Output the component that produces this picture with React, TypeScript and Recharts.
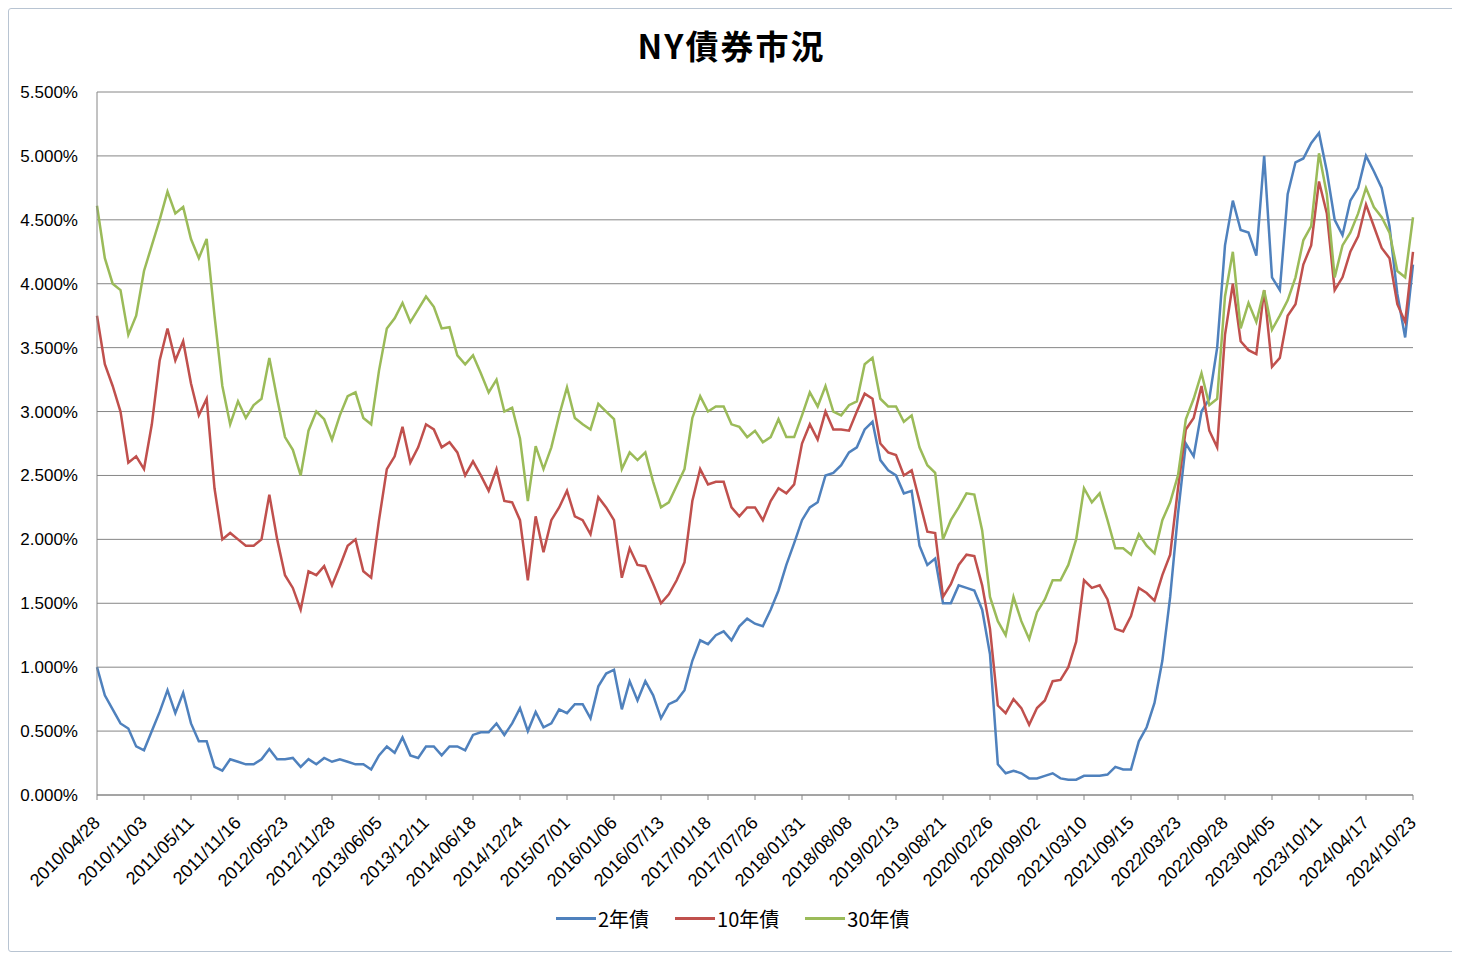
import React from "react";
import { LineChart, Line, XAxis, YAxis, CartesianGrid } from "recharts";

// axis labels (one every 6 data points, roughly monthly samples)
const tickLabels = [
  "2010/04/28", "2010/11/03", "2011/05/11", "2011/11/16", "2012/05/23", "2012/11/28",
  "2013/06/05", "2013/12/11", "2014/06/18", "2014/12/24", "2015/07/01", "2016/01/06",
  "2016/07/13", "2017/01/18", "2017/07/26", "2018/01/31", "2018/08/08", "2019/02/13",
  "2019/08/21", "2020/02/26", "2020/09/02", "2021/03/10", "2021/09/15", "2022/03/23",
  "2022/09/28", "2023/04/05", "2023/10/11", "2024/04/17", "2024/10/23",
];
const yTicks = [0, 0.5, 1, 1.5, 2, 2.5, 3, 3.5, 4, 4.5, 5, 5.5];

// 2年債 (%)
const y2 = [
  1.0, 0.78, 0.67, 0.56, 0.52, 0.38, 0.35, 0.5, 0.65, 0.82, 0.64, 0.8, 0.56, 0.42, 0.42, 0.22, 0.19, 0.28, 0.26, 0.24, 0.24, 0.28, 0.36, 0.28, 0.28, 0.29, 0.22, 0.28, 0.24,
  0.29, 0.26, 0.28, 0.26, 0.24, 0.24, 0.2, 0.31, 0.38, 0.33, 0.45, 0.31, 0.29, 0.38, 0.38, 0.31, 0.38, 0.38, 0.35, 0.47, 0.49, 0.49, 0.56, 0.47, 0.56, 0.68, 0.5, 0.65,
  0.53, 0.56, 0.67, 0.64, 0.71, 0.71, 0.6, 0.85, 0.95, 0.98, 0.67, 0.89, 0.74, 0.89, 0.78, 0.6, 0.71, 0.74, 0.82, 1.05, 1.21, 1.18, 1.25, 1.28, 1.21, 1.32, 1.38, 1.34,
  1.32, 1.45, 1.6, 1.8, 1.97, 2.15, 2.25, 2.29, 2.5, 2.52, 2.58, 2.68, 2.72, 2.86, 2.92, 2.62, 2.54, 2.5, 2.36, 2.38, 1.95, 1.8, 1.85, 1.5, 1.5, 1.64, 1.62, 1.6,
  1.45, 1.1, 0.24, 0.17, 0.19, 0.17, 0.13, 0.13, 0.15, 0.17, 0.13, 0.12, 0.12, 0.15, 0.15, 0.15, 0.16, 0.22, 0.2, 0.2, 0.42, 0.53, 0.72, 1.05, 1.55, 2.2, 2.75, 2.65,
  3.0, 3.1, 3.5, 4.3, 4.65, 4.42, 4.4, 4.22, 5.0, 4.05, 3.95, 4.7, 4.95, 4.98, 5.1, 5.18, 4.88, 4.5, 4.38, 4.65, 4.75, 5.0, 4.88, 4.75, 4.45, 3.92, 3.58, 4.15,
];

// 10年債 (%)
const y10 = [
  3.75, 3.37, 3.2, 3.0, 2.6, 2.65, 2.55, 2.9, 3.4, 3.65, 3.4, 3.55, 3.22, 2.97, 3.1, 2.4, 2.0, 2.05, 2.0, 1.95, 1.95, 2.0, 2.35, 2.0, 1.72, 1.62, 1.45, 1.75, 1.72,
  1.79, 1.64, 1.79, 1.95, 2.0, 1.75, 1.7, 2.15, 2.55, 2.65, 2.88, 2.6, 2.72, 2.9, 2.86, 2.72, 2.76, 2.68, 2.5, 2.61, 2.5, 2.38, 2.55, 2.3, 2.29, 2.15, 1.68, 2.18,
  1.9, 2.15, 2.25, 2.38, 2.18, 2.15, 2.04, 2.33, 2.25, 2.15, 1.7, 1.93, 1.8, 1.79, 1.65, 1.5, 1.57, 1.68, 1.82, 2.3, 2.55, 2.43, 2.45, 2.45, 2.25, 2.18, 2.25, 2.25,
  2.15, 2.3, 2.4, 2.36, 2.43, 2.75, 2.9, 2.78, 3.0, 2.86, 2.86, 2.85, 3.0, 3.14, 3.1, 2.75, 2.68, 2.66, 2.5, 2.54, 2.3, 2.06, 2.05, 1.55, 1.65, 1.8, 1.88, 1.87,
  1.64, 1.3, 0.7, 0.64, 0.75, 0.68, 0.55, 0.68, 0.74, 0.89, 0.9, 1.0, 1.2, 1.68, 1.62, 1.64, 1.53, 1.3, 1.28, 1.4, 1.62, 1.58, 1.52, 1.72, 1.88, 2.4, 2.86, 2.95,
  3.2, 2.85, 2.72, 3.6, 4.0, 3.55, 3.48, 3.45, 3.95, 3.35, 3.42, 3.75, 3.84, 4.15, 4.3, 4.8, 4.55, 3.95, 4.05, 4.25, 4.37, 4.62, 4.45, 4.28, 4.2, 3.84, 3.7, 4.25,
];

// 30年債 (%)
const y30 = [
  4.61, 4.2, 4.0, 3.95, 3.6, 3.75, 4.1, 4.3, 4.5, 4.72, 4.55, 4.6, 4.35, 4.2, 4.35, 3.75, 3.2, 2.9, 3.08, 2.95, 3.05, 3.1, 3.42, 3.1, 2.8, 2.7, 2.5, 2.85, 3.0,
  2.94, 2.78, 2.97, 3.12, 3.15, 2.95, 2.9, 3.32, 3.65, 3.73, 3.85, 3.7, 3.8, 3.9, 3.82, 3.65, 3.66, 3.44, 3.37, 3.44, 3.3, 3.15, 3.25, 3.0, 3.03, 2.79, 2.3, 2.73,
  2.55, 2.72, 2.97, 3.19, 2.95, 2.9, 2.86, 3.06, 3.0, 2.94, 2.55, 2.68, 2.62, 2.68, 2.45, 2.25, 2.29, 2.42, 2.55, 2.95, 3.12, 3.0, 3.04, 3.04, 2.9, 2.88, 2.8, 2.85,
  2.76, 2.8, 2.94, 2.8, 2.8, 2.97, 3.15, 3.04, 3.2, 3.0, 2.97, 3.05, 3.08, 3.37, 3.42, 3.1, 3.04, 3.04, 2.92, 2.97, 2.72, 2.58, 2.52, 2.0, 2.15, 2.25, 2.36, 2.35,
  2.07, 1.55, 1.36, 1.25, 1.55, 1.36, 1.22, 1.43, 1.53, 1.68, 1.68, 1.8, 2.0, 2.4, 2.29, 2.36, 2.15, 1.93, 1.93, 1.88, 2.04, 1.95, 1.89, 2.15, 2.29, 2.5, 2.94, 3.1,
  3.3, 3.05, 3.1, 3.9, 4.25, 3.65, 3.85, 3.7, 3.95, 3.64, 3.75, 3.87, 4.05, 4.34, 4.45, 5.02, 4.7, 4.05, 4.3, 4.4, 4.55, 4.75, 4.6, 4.52, 4.4, 4.1, 4.05, 4.52,
];

const series = [
  { key: "y2", name: "2年債", color: "#4F81BD" },
  { key: "y10", name: "10年債", color: "#C0504D" },
  { key: "y30", name: "30年債", color: "#9BBB59" },
];

const STEP = 6;
const data = y2.map((v, i) => ({ i, y2: v, y10: y10[i], y30: y30[i] }));
const xTicks = tickLabels.map((_, k) => k * STEP);
const LAST = (tickLabels.length - 1) * STEP;

function DateTick(props: any) {
  const { x, y, payload } = props;
  const ax = x + 4;
  const ay = y + 22;
  return (
    <text
      x={ax}
      y={ay}
      transform={`rotate(-45 ${ax} ${ay})`}
      textAnchor="end"
      fontSize={18}
      fontFamily="'Liberation Sans', Arial, sans-serif"
      fill="#000"
    >
      {tickLabels[Math.round(payload.value / STEP)]}
    </text>
  );
}

export default function App() {
  return (
    <div
      style={{
        position: "relative",
        width: 1450,
        height: 944,
        boxSizing: "border-box",
        border: "1px solid #b8c4d2",
        borderRadius: 3,
        background: "#fff",
      }}
    >
      <div
        style={{
          position: "absolute",
          left: 0,
          width: 1445,
          top: 16,
          textAlign: "center",
          lineHeight: "40px",
          fontSize: 33,
          fontWeight: 700,
          letterSpacing: 2,
          fontFamily: "'Noto Sans CJK JP', sans-serif",
          color: "#000",
        }}
      >
        NY債券市況
      </div>

      <LineChart
        width={1445}
        height={942}
        data={data}
        margin={{ top: 83, right: 41, bottom: 56, left: 8 }}
      >
        <CartesianGrid horizontal vertical={false} stroke="#868686" strokeWidth={1} />
        <XAxis
          dataKey="i"
          type="number"
          domain={[0, LAST]}
          ticks={xTicks}
          interval={0}
          height={100}
          stroke="#868686"
          tickSize={5}
          tickMargin={2}
          tick={<DateTick />}
        />
        <YAxis
          type="number"
          domain={[0, 5.5]}
          ticks={yTicks}
          width={80}
          stroke="#868686"
          tickLine={false}
          tickSize={6}
          tickMargin={13}
          tickFormatter={(v: number) => `${v.toFixed(3)}%`}
          tick={{ fontSize: 17, fill: "#000", fontFamily: "'Liberation Sans', Arial, sans-serif" }}
        />
        {series.map((s) => (
          <Line
            key={s.key}
            type="linear"
            dataKey={s.key}
            name={s.name}
            stroke={s.color}
            strokeWidth={2.5}
            dot={false}
            isAnimationActive={false}
          />
        ))}
      </LineChart>

      <div
        style={{
          position: "absolute",
          left: 547,
          top: 897,
          height: 24,
          display: "flex",
          alignItems: "center",
          fontSize: 20,
          fontFamily: "'Noto Sans CJK JP', sans-serif",
          color: "#000",
        }}
      >
        {series.map((s) => (
          <div key={s.key} style={{ display: "flex", alignItems: "center", marginRight: 26 }}>
            <span style={{ display: "inline-block", width: 40, height: 3, background: s.color, marginRight: 2 }} />
            <span>{s.name}</span>
          </div>
        ))}
      </div>
    </div>
  );
}
